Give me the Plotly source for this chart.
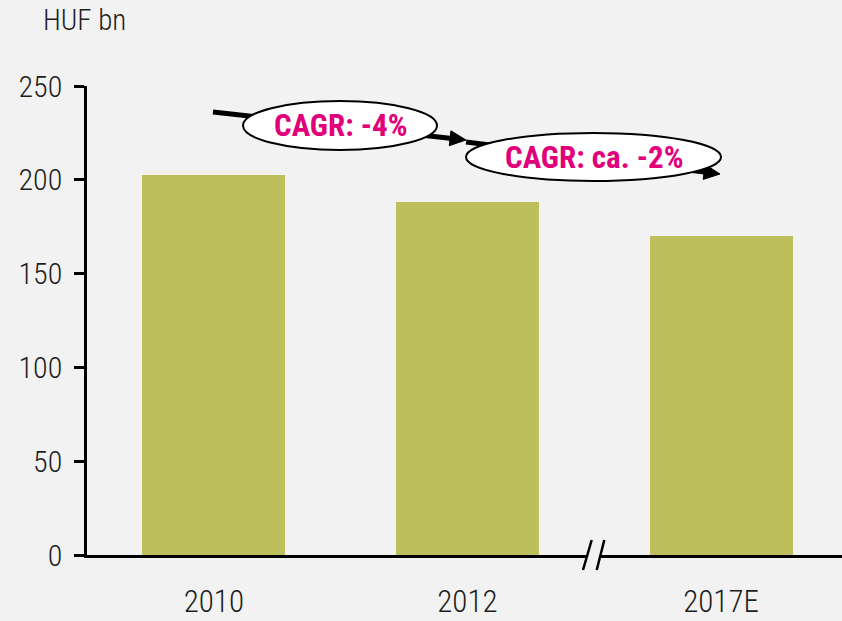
import plotly.graph_objects as go
import math

categories = ["2010", "2012", "2017E"]
values = [202.6, 188.2, 170.0]
y_ticks = [0, 50, 100, 150, 200, 250]
unit_label = "HUF bn"
cagr_labels = ["CAGR: -4%", "CAGR: ca. -2%"]

W, H = 842, 621
L, R, T, B = 87, 0, 86, 66
PW, PH = W - L - R, H - T - B

FONT = "Liberation Sans Narrow, Arial Narrow, Roboto Condensed, Liberation Sans, sans-serif"
BG = "#f2f2f2"
BAR = "#bdbf5d"
MAG = "#e2007a"
TXT = "#1e1e1e"


def px(x):
    return (x - L) / PW


def py(y):
    return (H - B - y) / PH


fig = go.Figure()
fig.add_trace(go.Bar(x=[0, 1, 2], y=values, marker=dict(color=BAR, line=dict(width=0)),
                     width=0.564, hoverinfo="skip"))

shapes = []


def arrow(x0, y0, x1, y1, width=5, hl=16, hw=7.5):
    dx, dy = x1 - x0, y1 - y0
    n = math.hypot(dx, dy)
    ux, uy = dx / n, dy / n
    bx, by = x1 - hl * ux, y1 - hl * uy
    nx, ny = -uy, ux
    shapes.append(dict(type="line", xref="paper", yref="paper",
                       x0=px(x0), y0=py(y0), x1=px(bx + ux * 2), y1=py(by + uy * 2),
                       line=dict(color="black", width=width)))
    pts = [(x1, y1), (bx + hw * nx, by + hw * ny), (bx - hw * nx, by - hw * ny)]
    path = "M " + " L ".join(f"{px(a):.5f},{py(b):.5f}" for a, b in pts) + " Z"
    shapes.append(dict(type="path", xref="paper", yref="paper", path=path,
                       fillcolor="black", line=dict(color="black", width=1)))


arrow(213, 112, 466, 140)
arrow(466, 142, 720, 174)

# ellipses
shapes.append(dict(type="circle", xref="paper", yref="paper",
                   x0=px(243), x1=px(437), y0=py(150), y1=py(101),
                   fillcolor="white", line=dict(color="black", width=2)))
shapes.append(dict(type="circle", xref="paper", yref="paper",
                   x0=px(466), x1=px(721), y0=py(181), y1=py(133),
                   fillcolor="white", line=dict(color="black", width=2)))

# axis break marker
brk = [(583, 570), (591.7, 540), (604.3, 540), (596.7, 570)]
shapes.append(dict(type="path", xref="paper", yref="paper",
                   path="M " + " L ".join(f"{px(a):.5f},{py(b):.5f}" for a, b in brk) + " Z",
                   fillcolor=BG, line=dict(width=0)))
shapes.append(dict(type="line", xref="paper", yref="paper", x0=px(583), y0=py(570),
                   x1=px(591.7), y1=py(540), line=dict(color="black", width=2.5)))
shapes.append(dict(type="line", xref="paper", yref="paper", x0=px(596.7), y0=py(570),
                   x1=px(604.3), y1=py(540), line=dict(color="black", width=2.5)))

annotations = [
    dict(text=cagr_labels[0], xref="paper", yref="paper", x=px(340), y=py(125),
         xanchor="center", yanchor="middle",
         showarrow=False, font=dict(family=FONT, size=31, color=MAG, weight="bold")),
    dict(text=cagr_labels[1], xref="paper", yref="paper", x=px(594), y=py(157),
         xanchor="center", yanchor="middle",
         showarrow=False, font=dict(family=FONT, size=31, color=MAG, weight="bold")),
    dict(text=unit_label, xref="paper", yref="paper", x=px(41), y=py(20),
         xanchor="left", yanchor="middle", showarrow=False,
         font=dict(family=FONT, size=29, color=TXT, weight=350)),
]

fig.update_layout(
    width=W, height=H,
    margin=dict(l=L, r=R, t=T, b=B),
    paper_bgcolor=BG, plot_bgcolor=BG,
    showlegend=False,
    shapes=shapes,
    annotations=annotations,
    bargap=0,
    xaxis=dict(tickmode="array", tickvals=[0, 1, 2], ticktext=categories,
               range=[-0.5, 2.477], showgrid=False, zeroline=False,
               showline=True, linecolor="black", linewidth=2.5, ticks="",
               tickfont=dict(family=FONT, size=31, color=TXT, weight=350), ticklabelstandoff=17),
    yaxis=dict(range=[0, 250], tickvals=y_ticks, showgrid=False, zeroline=False,
               showline=True, linecolor="black", linewidth=2.5,
               ticks="outside", ticklen=10, tickwidth=2.5, tickcolor="black",
               tickfont=dict(family=FONT, size=30, color=TXT, weight=350), ticklabelstandoff=6),
)

fig.write_html("out.html", config={"displayModeBar": False},
               post_script="document.body.style.margin='0';document.body.style.background='%s';" % BG)
